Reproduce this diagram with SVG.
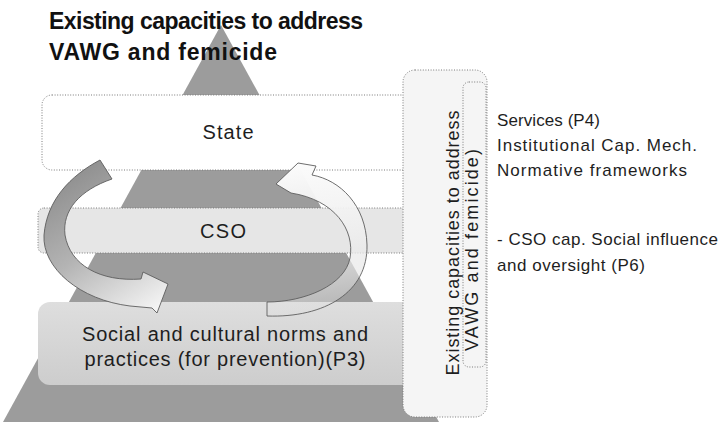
<svg xmlns="http://www.w3.org/2000/svg" width="722" height="422" viewBox="0 0 722 422">
  <defs>
    <style>
      .dotted{stroke:#7a7a7a;stroke-width:1;stroke-dasharray:1 1.6;}
      .txt{font-family:"Liberation Sans","Open Sans",sans-serif;fill:#1e1e1e;}
      .title{font-family:"Liberation Sans","Open Sans",sans-serif;font-weight:bold;font-size:23px;fill:#111;}
      .layer{font-size:20px;text-anchor:middle;}
      .note{font-size:17px;}
      .side{font-size:18px;text-anchor:middle;}
      .arrow{stroke:#5e5e5e;stroke-width:0.9;stroke-linejoin:round;}
    </style>
    <linearGradient id="leftArrowFill" gradientUnits="userSpaceOnUse" x1="70" y1="165" x2="160" y2="305">
      <stop offset="0" stop-color="#8c8c8c"/>
      <stop offset="0.5" stop-color="#b4b4b4"/>
      <stop offset="1" stop-color="#f3f3f3"/>
    </linearGradient>
    <linearGradient id="rightArrowFill" gradientUnits="userSpaceOnUse" x1="300" y1="165" x2="320" y2="316">
      <stop offset="0" stop-color="#fbfbfb"/>
      <stop offset="0.5" stop-color="#eeeeee" stop-opacity="0.9"/>
      <stop offset="1" stop-color="#dedede" stop-opacity="0.35"/>
    </linearGradient>
    <linearGradient id="normsFill" x1="0" y1="0" x2="0" y2="1">
      <stop offset="0" stop-color="#dedede"/>
      <stop offset="1" stop-color="#cdcdcd"/>
    </linearGradient>
  </defs>

  <!-- background pyramid -->
  <polygon id="pyramid" points="221,25 439,422 3,422" fill="#9c9c9c"/>

  <!-- title -->
  <text class="title" x="49" y="29" textLength="314">Existing capacities to address</text>
  <text class="title" x="49" y="60" textLength="228">VAWG and femicide</text>

  <!-- pyramid layers -->
  <g id="state">
    <rect x="42" y="95" width="380" height="75" rx="10" fill="#ffffff" class="dotted"/>
    <text class="txt layer" x="228" y="139" textLength="51">State</text>
  </g>
  <g id="cso">
    <rect x="38" y="208" width="384" height="45" rx="6" fill="#e6e6e6" class="dotted"/>
    <text class="txt layer" x="223" y="238" font-size="21" textLength="46">CSO</text>
  </g>
  <g id="norms">
    <rect x="38" y="302" width="384" height="83" rx="12" fill="url(#normsFill)"/>
    <text class="txt layer" x="225" y="341" textLength="286">Social and cultural norms and</text>
    <text class="txt layer" x="225" y="366" textLength="281">practices (for prevention)(P3)</text>
  </g>

  <!-- cycle arrows -->
  <g id="connectors">
    <path id="arrow-down-left" class="arrow" fill="url(#leftArrowFill)"
          d="M100,160 C70,176 47,200 44,235 C42,268 80,300 130,306 L152,308 L157,313 L168,284 L143,272 L141,279 C100,282 70,265 65,235 C62,210 80,190 112,179 Z"/>
    <path id="arrow-up-right" class="arrow" fill="url(#rightArrowFill)"
          d="M298,163 L276,184 L291,193 C335,200 355,230 350,258 C345,285 305,302 267,302 L267,316 C325,318 368,292 367,245 C366,205 340,180 312,175 L316,166 Z"/>
  </g>

  <!-- side panel with rotated heading -->
  <g id="side-panel">
    <rect x="403" y="70" width="84" height="347" rx="12" fill="#f5f5f5" class="dotted"/>
    <rect x="463" y="82" width="23" height="285" rx="6" fill="none" class="dotted"/>
    <text class="txt side" transform="translate(459,243) rotate(-90)" textLength="265">Existing capacities to address</text>
    <text class="txt side" transform="translate(478,250) rotate(-90)" textLength="202">VAWG and femicide)</text>
  </g>

  <!-- notes beside the panel -->
  <g id="state-notes">
    <text class="txt note" x="497" y="126" textLength="103">Services (P4)</text>
    <text class="txt note" x="497" y="151" textLength="200">Institutional Cap. Mech.</text>
    <text class="txt note" x="497" y="176" textLength="190">Normative frameworks</text>
  </g>
  <g id="cso-notes">
    <text class="txt note" x="497" y="245" textLength="221">- CSO cap. Social influence</text>
    <text class="txt note" x="497" y="271" textLength="148">and oversight (P6)</text>
  </g>
</svg>
